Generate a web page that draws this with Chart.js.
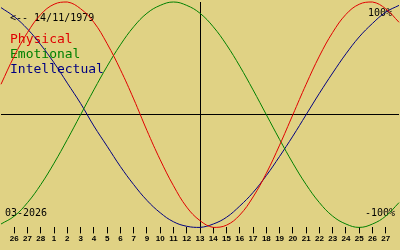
<!DOCTYPE html>
<html>
<head>
<meta charset="utf-8">
<script src="https://cdn.jsdelivr.net/npm/chart.js@4"></script>
<style>
  html, body { margin: 0; padding: 0; background: #e0d284; }
  #bio { display: block; background: #e0d284; }
</style>
</head>
<body>
<canvas id="bio" width="400" height="250"></canvas>
<script>
// day labels, blank at both edges (curves run past the first and last tick)
const dayLabels = ['', '26', '27', '28', '1', '2', '3', '4', '5', '6', '7', '9', '10', '11', '12',
    '13', '14', '15', '16', '17', '18', '19', '20', '21', '22', '23', '24', '25', '26', '27', ''];
const todayIndex = 15;

const seriesNames = ['Physical', 'Emotional', 'Intellectual'];
const seriesColors = ['#e00000', '#008000', '#000080'];

// readings per day, -1 .. 1
const physical = [0.27, 0.52, 0.73, 0.89, 0.98, 1.00, 0.94, 0.82, 0.63, 0.40, 0.14,
    -0.14, -0.40, -0.63, -0.82, -0.94, -1.00, -0.98, -0.89, -0.73, -0.52, -0.27,
    0.00, 0.27, 0.52, 0.73, 0.89, 0.98, 1.00, 0.94, 0.82];
const emotional = [-0.97, -0.90, -0.78, -0.62, -0.43, -0.22, 0.00, 0.22, 0.43, 0.62, 0.78,
    0.90, 0.97, 1.00, 0.97, 0.90, 0.78, 0.62, 0.43, 0.22, 0.00, -0.22,
    -0.43, -0.62, -0.78, -0.90, -0.97, -1.00, -0.97, -0.90, -0.78];
const intellectual = [0.95, 0.87, 0.76, 0.62, 0.46, 0.28, 0.10, -0.10, -0.28, -0.46, -0.62,
    -0.76, -0.87, -0.95, -0.99, -1.00, -0.97, -0.91, -0.81, -0.69, -0.54, -0.37,
    -0.19, 0.00, 0.19, 0.37, 0.54, 0.69, 0.81, 0.91, 0.97];

const birthText = '<-- 14/11/1979';
const monthText = '03-2026';
const topText = '100%';
const bottomText = '-100%';

const seriesData = [physical, emotional, intellectual];

// texts painted under the curves
const overlayText = {
    id: 'overlayText',
    beforeDatasetsDraw(chart) {
        const c = chart.ctx;
        c.save();
        c.textBaseline = 'alphabetic';
        c.textAlign = 'left';
        c.font = '10px "DejaVu Sans Mono", monospace';
        c.fillStyle = '#000';
        c.fillText(birthText, 10, 21);
        c.fillText(topText, 368, 16);
        c.fillText(monthText, 5, 216);
        c.fillText(bottomText, 365, 216);

        c.font = '13px "DejaVu Sans Mono", monospace';
        seriesNames.forEach((name, i) => {
            c.fillStyle = seriesColors[i];
            c.fillText(name, 10, 43 + i * 15);
        });
        c.restore();
    }
};

const ctx = document.getElementById('bio').getContext('2d');

new Chart(ctx, {
    type: 'line',
    data: {
        labels: dayLabels,
        datasets: seriesData.map((vals, i) => ({
            label: seriesNames[i],
            data: vals,
            borderColor: seriesColors[i],
            borderWidth: 1,
            pointRadius: 0,
            pointBorderWidth: 0,
            tension: 0.4,
            fill: false,
            clip: false
        }))
    },
    options: {
        responsive: false,
        animation: false,
        layout: { autoPadding: false, padding: { top: 2, bottom: 5, left: 0, right: 0 } },
        plugins: {
            legend: { display: false },
            tooltip: { enabled: false }
        },
        scales: {
            x: {
                offset: false,
                border: { display: false },
                grid: {
                    drawOnChartArea: true,
                    drawTicks: true,
                    tickLength: 6,
                    lineWidth: 1,
                    color: (c) => c.index === todayIndex ? '#000' : 'rgba(0,0,0,0)',
                    tickColor: (c) => (c.index === 0 || c.index === dayLabels.length - 1) ? 'rgba(0,0,0,0)' : '#000'
                },
                ticks: {
                    autoSkip: false,
                    maxRotation: 0,
                    padding: 1,
                    color: '#000',
                    font: { family: '"Liberation Sans", Arial, sans-serif', size: 8, weight: 'bold' }
                }
            },
            y: {
                min: -1,
                max: 1,
                border: { display: false },
                grid: {
                    drawTicks: false,
                    lineWidth: 1,
                    color: (c) => c.tick && c.tick.value === 0 ? '#000' : 'rgba(0,0,0,0)'
                },
                ticks: { display: false, stepSize: 1 }
            }
        }
    },
    plugins: [overlayText]
});
</script>
</body>
</html>
